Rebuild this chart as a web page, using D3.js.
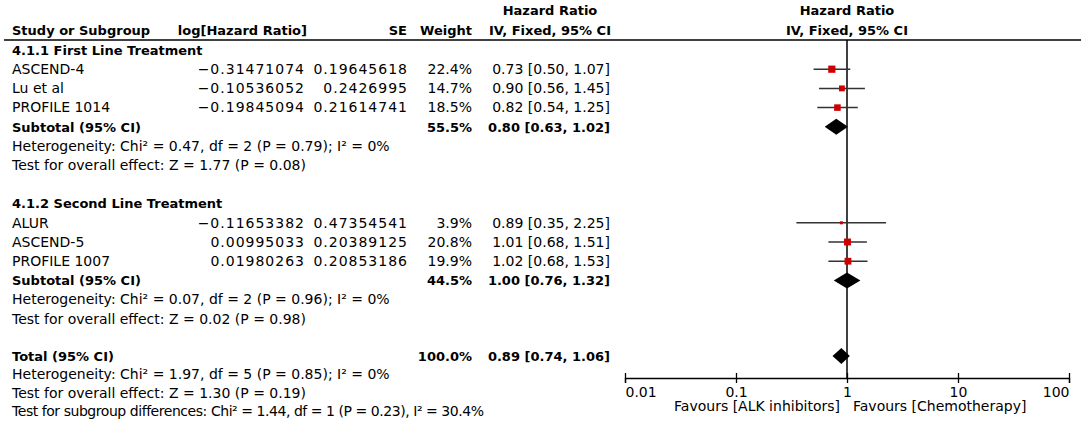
<!DOCTYPE html>
<html lang="en">
<head>
<meta charset="UTF-8">
<title>Forest plot</title>
<script src="https://d3js.org/d3.v7.min.js"></script>
<style>
    body { margin: 0; background: #fff; }
    svg { display: block; font-family: 'DejaVu Sans', sans-serif; }
    .reg { font-size: 14px; fill: #000; }
    .num { font-size: 14px; fill: #000; letter-spacing: 1px; }
    .bold { font-size: 13px; font-weight: bold; fill: #000; }
    .axis text { font-size: 14px; font-family: 'DejaVu Sans', sans-serif; fill: #000; }
    .axis path, .axis line { stroke: #000; stroke-width: 1.3; }
</style>
</head>
<body>
<svg width="1084" height="428"></svg>
<script>
// ---- data ----
const groups = ["4.1.1 First Line Treatment", "4.1.2 Second Line Treatment"];
const studies = ["ASCEND-4", "Lu et al", "PROFILE 1014", "ALUR", "ASCEND-5", "PROFILE 1007"];
const logHR = ["\u22120.31471074", "\u22120.10536052", "\u22120.19845094", "\u22120.11653382", "0.00995033", "0.01980263"];
const seVals = ["0.19645618", "0.2426995", "0.21614741", "0.47354541", "0.20389125", "0.20853186"];
const weight = [22.4, 14.7, 18.5, 3.9, 20.8, 19.9];
const hr = [0.73, 0.90, 0.82, 0.89, 1.01, 1.02];
const lo = [0.50, 0.56, 0.54, 0.35, 0.68, 0.68];
const hi = [1.07, 1.45, 1.25, 2.25, 1.51, 1.53];

const pooledLabels = ["Subtotal (95% CI)", "Subtotal (95% CI)", "Total (95% CI)"];
const pooledWeight = [55.5, 44.5, 100.0];
const pooledHR = [0.80, 1.00, 0.89];
const pooledLo = [0.63, 0.76, 0.74];
const pooledHi = [1.02, 1.32, 1.06];

const hetChi = [0.47, 0.07, 1.97];
const hetDf = [2, 2, 5];
const hetP = [0.79, 0.96, 0.85];
const hetI2 = [0, 0, 0];
const zVal = [1.77, 0.02, 1.30];
const zP = [0.08, 0.98, 0.19];
const subgroupTest = {chi: 1.44, df: 1, p: 0.23, i2: 30.4};

const axisTicks = [0.01, 0.1, 1, 10, 100];
const favours = ["Favours [ALK inhibitors]", "Favours [Chemotherapy]"];

// ---- layout ----
const svg = d3.select("svg");
const x = d3.scaleLog().domain([0.01, 100]).range([625, 1069]);
const rowLin = d3.scaleLinear().domain([0, 1]).range([50, 69.2]);
// the Total block sits a little tighter in the original
const rowTail = d3.scaleLinear().domain([16, 17]).range([356, 374.4]);
const row = r => r < 16 ? rowLin(r) : rowTail(r);
const box = d3.scaleSqrt().domain([0, 25]).range([0, 7.6]);
const col = {study: 12, logHR: 304, se: 407, weight: 472, ci: 610, ciMid: 550};
const base = 4.8; // text baseline offset below row centre
const axisY = 378;
const headerY = 40;
const f2 = d3.format(".2f");
const ciText = (e, l, h) => `${f2(e)} [${f2(l)}, ${f2(h)}]`;

// row indices
const groupRow = [0, 8];
const studyRow = [1, 2, 3, 9, 10, 11];
const pooledRow = [4, 12, 16];

// header
const head = svg.append("g");
head.append("text").attr("class", "bold").attr("x", col.study).attr("y", 35).text("Study or Subgroup");
head.append("text").attr("class", "bold").attr("x", col.logHR + 3).attr("y", 35).attr("text-anchor", "end").text("log[Hazard Ratio]");
head.append("text").attr("class", "bold").attr("x", col.se).attr("y", 35).attr("text-anchor", "end").text("SE");
head.append("text").attr("class", "bold").attr("x", col.weight).attr("y", 35).attr("text-anchor", "end").text("Weight");
[col.ciMid, x(1)].forEach(cx => {
    head.append("text").attr("class", "bold").attr("x", cx).attr("y", 15).attr("text-anchor", "middle").text("Hazard Ratio");
    head.append("text").attr("class", "bold").attr("x", cx).attr("y", 35).attr("text-anchor", "middle").text("IV, Fixed, 95% CI");
});
head.append("line").attr("x1", 4).attr("x2", 1081).attr("y1", headerY).attr("y2", headerY)
    .attr("stroke", "#000").attr("stroke-width", 1.5);

// group titles
svg.append("g").selectAll("text").data(groups).join("text")
    .attr("class", "bold").attr("x", col.study)
    .attr("y", (d, i) => row(groupRow[i]) + base).text(d => d);

// study rows
const sd = studies.map((s, i) => ({s, i, y: row(studyRow[i])}));
const st = svg.append("g");
st.selectAll(".name").data(sd).join("text").attr("class", "reg").attr("x", col.study).attr("y", d => d.y + base).text(d => d.s);
st.selectAll(".lhr").data(sd).join("text").attr("class", "num").attr("x", col.logHR + 1).attr("y", d => d.y + base).attr("text-anchor", "end").text(d => logHR[d.i]);
st.selectAll(".se").data(sd).join("text").attr("class", "num").attr("x", col.se + 1).attr("y", d => d.y + base).attr("text-anchor", "end").text(d => seVals[d.i]);
st.selectAll(".w").data(sd).join("text").attr("class", "reg").attr("x", col.weight).attr("y", d => d.y + base).attr("text-anchor", "end").text(d => weight[d.i].toFixed(1) + "%");
st.selectAll(".ci").data(sd).join("text").attr("class", "reg").attr("x", col.ci).attr("y", d => d.y + base).attr("text-anchor", "end").text(d => ciText(hr[d.i], lo[d.i], hi[d.i]));

// pooled rows
const pd = pooledLabels.map((s, i) => ({s, i, y: row(pooledRow[i])}));
const pt = svg.append("g");
pt.selectAll(".name").data(pd).join("text").attr("class", "bold").attr("x", col.study).attr("y", d => d.y + base).text(d => d.s);
pt.selectAll(".w").data(pd).join("text").attr("class", "bold").attr("x", col.weight).attr("y", d => d.y + base).attr("text-anchor", "end").text(d => pooledWeight[d.i].toFixed(1) + "%");
pt.selectAll(".ci").data(pd).join("text").attr("class", "bold").attr("x", col.ci).attr("y", d => d.y + base).attr("text-anchor", "end").text(d => ciText(pooledHR[d.i], pooledLo[d.i], pooledHi[d.i]));

// heterogeneity and overall-effect lines
const stats = svg.append("g");
pooledRow.forEach((r, i) => {
    stats.append("text").attr("class", "reg").attr("x", col.study).attr("y", row(r + 1) + base)
        .text(`Heterogeneity: Chi\u00b2 = ${f2(hetChi[i])}, df = ${hetDf[i]} (P = ${f2(hetP[i])}); I\u00b2 = ${hetI2[i]}%`);
    stats.append("text").attr("class", "reg").attr("x", col.study).attr("y", row(r + 2) + base)
        .text(`Test for overall effect: Z = ${f2(zVal[i])} (P = ${f2(zP[i])})`);
});
stats.append("text").attr("class", "reg").attr("x", col.study).attr("y", row(19) + base)
    .style("letter-spacing", "-0.45px")
    .text(`Test for subgroup differences: Chi\u00b2 = ${f2(subgroupTest.chi)}, df = ${subgroupTest.df} (P = ${f2(subgroupTest.p)}), I\u00b2 = ${subgroupTest.i2}%`);

// plot: null line
svg.append("line").attr("x1", x(1)).attr("x2", x(1)).attr("y1", headerY).attr("y2", axisY)
    .attr("stroke", "#000").attr("stroke-width", 1.5);

// CI whiskers and boxes
const plot = svg.append("g");
plot.selectAll(".whisker").data(sd).join("line")
    .attr("x1", d => x(lo[d.i])).attr("x2", d => x(hi[d.i]))
    .attr("y1", d => d.y).attr("y2", d => d.y)
    .attr("stroke", "#333").attr("stroke-width", 1.5);
plot.selectAll(".box").data(sd).join("rect")
    .attr("x", d => x(hr[d.i]) - box(weight[d.i]) / 2)
    .attr("y", d => d.y - box(weight[d.i]) / 2)
    .attr("width", d => box(weight[d.i])).attr("height", d => box(weight[d.i]))
    .attr("fill", "#cc0000");

// diamonds
plot.selectAll(".diamond").data(pd).join("path")
    .attr("d", d => {
        const l = x(pooledLo[d.i]), r = x(pooledHi[d.i]), c = x(pooledHR[d.i]), h = 8;
        return `M${l},${d.y}L${c},${d.y - h}L${r},${d.y}L${c},${d.y + h}Z`;
    })
    .attr("fill", "#000");

// axis
const ax = svg.append("g").attr("class", "axis").attr("transform", `translate(0,${axisY})`)
    .call(d3.axisBottom(x).tickValues(axisTicks).tickFormat(d => String(d)).tickSizeOuter(0).tickSize(5).tickPadding(4));
ax.selectAll(".tick line").attr("y1", -5).attr("y2", 5);
ax.selectAll(".tick text")
    .attr("text-anchor", (d, i) => i === 0 ? "start" : (i === axisTicks.length - 1 ? "end" : "middle"));

svg.append("text").attr("class", "reg").attr("x", x(1) - 7).attr("y", 411).attr("text-anchor", "end").text(favours[0]);
svg.append("text").attr("class", "reg").attr("x", x(1) + 6).attr("y", 411).text(favours[1]);
</script>
</body>
</html>
